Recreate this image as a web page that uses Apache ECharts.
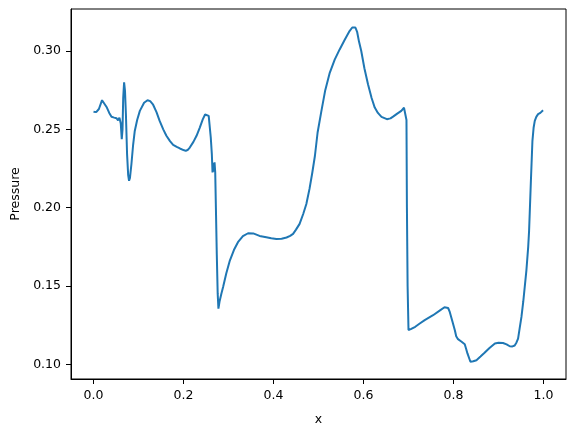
<!DOCTYPE html>
<html>
<head>
<meta charset="utf-8">
<script src="https://cdn.jsdelivr.net/npm/echarts@6/dist/echarts.min.js"></script>
<style>html,body{margin:0;padding:0;background:#fff}#c{width:576px;height:432px}</style>
</head>
<body>
<div id="c"></div>
<script>
const xTicks = [0.0, 0.2, 0.4, 0.6, 0.8, 1.0];
const yTicks = [0.10, 0.15, 0.20, 0.25, 0.30];
const xs = [0.000,0.006,0.012,0.019,0.023,0.029,0.035,0.040,0.046,0.051,0.0546,0.0576,0.0606,0.0628,0.0645,0.066,0.068,0.070,0.072,0.0746,0.077,0.079,0.081,0.0843,0.088,0.0917,0.097,0.103,0.1124,0.120,0.126,0.132,0.140,0.147,0.155,0.162,0.170,0.177,0.185,0.192,0.200,0.205,0.210,0.214,0.222,0.229,0.236,0.243,0.248,0.252,0.256,0.2606,0.263,0.2645,0.2660,0.2675,0.2690,0.2705,0.2720,0.2740,0.2760,0.2776,0.2800,0.2840,0.288,0.295,0.303,0.312,0.321,0.332,0.3435,0.355,0.369,0.384,0.395,0.4065,0.418,0.429,0.437,0.4435,0.450,0.458,0.466,0.473,0.480,0.486,0.492,0.498,0.5065,0.515,0.525,0.536,0.547,0.558,0.569,0.575,0.578,0.582,0.586,0.590,0.595,0.602,0.610,0.618,0.625,0.632,0.640,0.652,0.660,0.6657,0.675,0.684,0.690,0.6935,0.6955,0.6965,0.698,0.700,0.705,0.715,0.725,0.736,0.7546,0.770,0.780,0.784,0.788,0.7917,0.797,0.803,0.806,0.810,0.818,0.825,0.828,0.831,0.8376,0.844,0.851,0.860,0.869,0.880,0.892,0.900,0.910,0.918,0.925,0.931,0.936,0.940,0.9435,0.947,0.951,0.955,0.962,0.966,0.968,0.972,0.9754,0.978,0.9806,0.984,0.988,0.993,0.999];
const pressure = [0.2613,0.2610,0.2630,0.2686,0.2680,0.2643,0.2605,0.2580,0.2575,0.2571,0.2558,0.2575,0.2537,0.2438,0.2500,0.2700,0.2800,0.2745,0.2600,0.2342,0.2210,0.2172,0.2190,0.2279,0.2400,0.2490,0.2560,0.2618,0.2670,0.2686,0.2680,0.2660,0.2610,0.2554,0.2500,0.2459,0.2425,0.2401,0.2388,0.2378,0.2368,0.2363,0.2370,0.2384,0.2420,0.2459,0.2510,0.2565,0.2595,0.2603,0.2586,0.2448,0.2340,0.2225,0.2285,0.2230,0.2290,0.2225,0.2000,0.1700,0.1450,0.1356,0.1400,0.1450,0.1494,0.1580,0.1663,0.1730,0.1780,0.1818,0.1837,0.1836,0.1820,0.1812,0.1805,0.1801,0.1802,0.1810,0.1820,0.1833,0.1860,0.1897,0.1960,0.2024,0.2120,0.2220,0.2330,0.2480,0.2618,0.2750,0.2861,0.2945,0.3010,0.3070,0.3127,0.3150,0.3157,0.3150,0.3120,0.3060,0.3000,0.2890,0.2788,0.2700,0.2639,0.2605,0.2580,0.2565,0.2570,0.2581,0.2600,0.2618,0.2638,0.2648,0.2560,0.2000,0.1500,0.1220,0.1225,0.1240,0.1261,0.1283,0.1314,0.1345,0.1365,0.1371,0.1360,0.1335,0.1280,0.1218,0.1180,0.1161,0.1145,0.1129,0.1100,0.1070,0.1017,0.1020,0.1027,0.1050,0.1074,0.1105,0.1134,0.1138,0.1137,0.1128,0.1116,0.1115,0.1121,0.1140,0.1165,0.1230,0.1303,0.1400,0.1600,0.1750,0.1854,0.2172,0.2427,0.2510,0.2554,0.2580,0.2597,0.2605,0.2622];

const font = 'DejaVu Sans';
const chart = echarts.init(document.getElementById('c'), null, {renderer: 'canvas'});
chart.setOption({
  animation: false,
  backgroundColor: '#ffffff',
  grid: {left: 71, right: 10, top: 9, bottom: 53, show: true, borderColor: '#000', borderWidth: 1, backgroundColor: 'transparent'},
  xAxis: {
    type: 'value', min: -0.05, max: 1.05,
    name: 'x', nameLocation: 'middle', nameGap: 34,
    nameTextStyle: {fontFamily: font, fontSize: 12.5, color: '#000'},
    axisLine: {show: true, onZero: false, lineStyle: {color: '#000', width: 1}},
    axisTick: {show: true, length: 5, lineStyle: {color: '#000'}, customValues: xTicks},
    axisLabel: {fontFamily: font, fontSize: 12.5, color: '#000', margin: 10, customValues: xTicks, formatter: v => v.toFixed(1)},
    splitLine: {show: false}
  },
  yAxis: {
    type: 'value', min: 0.0907, max: 0.3268,
    name: 'Pressure', nameLocation: 'middle', nameGap: 47, nameRotate: 90,
    nameTextStyle: {fontFamily: font, fontSize: 12.5, color: '#000'},
    axisLine: {show: true, onZero: false, lineStyle: {color: '#000', width: 1}},
    axisTick: {show: true, length: 5, lineStyle: {color: '#000'}, customValues: yTicks},
    axisLabel: {fontFamily: font, fontSize: 12.5, color: '#000', margin: 10, customValues: yTicks, formatter: v => v.toFixed(2)},
    splitLine: {show: false}
  },
  series: [{
    type: 'line',
    data: xs.map((x, i) => [x, pressure[i]]),
    showSymbol: false,
    smooth: false,
    lineStyle: {color: '#1f77b4', width: 2},
    itemStyle: {color: '#1f77b4'}
  }]
});
</script>
</body>
</html>
